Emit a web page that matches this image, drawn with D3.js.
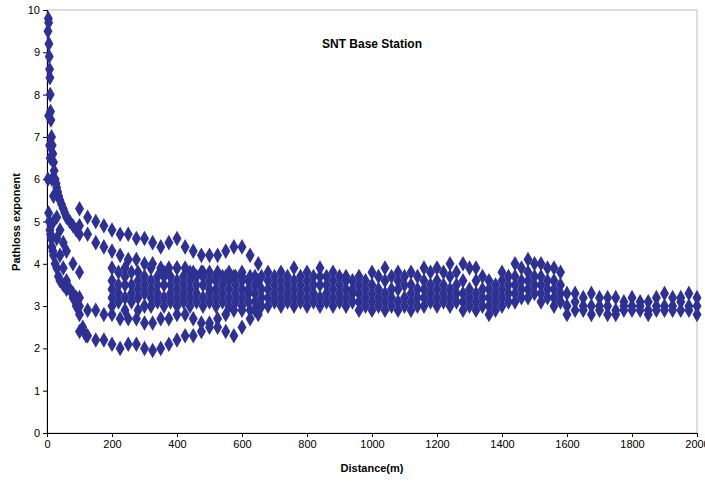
<!DOCTYPE html><html><head><meta charset="utf-8">
<script src="https://cdn.jsdelivr.net/npm/d3@7/dist/d3.min.js"></script>
<style>body{margin:0;background:#fff}svg{font-family:Arial,"Liberation Sans",sans-serif}</style></head><body>
<script>
const xTicks=[0,200,400,600,800,1000,1200,1400,1600,1800,2000];
const yTicks=[0,1,2,3,4,5,6,7,8,9,10];
const nearX1=[3,4,5,6,7,8,9,10,11,12,14,16,18,20,22,25,28,30,33,36,40,45,50,55,60,70,80,90,100];
const nearY1=[9.5,9.8,9.7,9.2,8.9,8.6,8.4,8.0,7.6,7.4,7.0,6.8,6.6,6.4,6.2,6.0,5.9,5.8,5.7,5.6,5.5,5.4,5.3,5.2,5.1,5.0,4.9,4.8,4.7];
const nearX2=[3,5,7,9,11,13,15,18,20,25,30,35,40,50,60,70,80,90,100];
const nearY2=[6.0,5.2,5.0,4.8,4.7,4.6,4.4,4.3,4.2,4.0,3.9,3.7,3.6,3.5,3.4,3.4,3.3,3.2,3.2];
const nearX3=[5,8,10,15,20,30,40,50,60,80,100];
const nearY3=[7.5,6.8,6.5,6.0,5.6,5.1,4.8,4.5,4.3,4.0,3.8];
const nearX4=[20,30,40,50,60,70,80,90,100,110,120];
const nearY4=[5.0,4.6,4.2,3.9,3.6,3.4,3.2,3.0,2.8,2.5,2.3];
const bandX=[100,125,150,175,200,225,250,275,300,325,350,375,400,425,450,475,500,525,550,575,600,625,650];
const upperY=[5.3,5.1,5.0,4.9,4.8,4.7,4.7,4.6,4.6,4.5,4.4,4.5,4.6,4.4,4.3,4.2,4.2,4.2,4.3,4.4,4.4,4.2,4.0];
const upper2Y=[4.9,4.7,4.5,4.4,4.3,4.2,4.1,4.1,4.0,4.0,3.9,3.9,3.9,3.9,3.8,3.8,3.8,3.8,3.7,3.7,3.7,3.7,3.6];
const lowY=[2.4,2.3,2.2,2.2,2.1,2.0,2.1,2.1,2.0,1.95,2.0,2.1,2.2,2.3,2.3,2.4,2.5,2.5,2.4,2.3,2.5,2.7,2.8];
const low2Y=[3.0,2.9,2.9,2.8,2.8,2.7,2.7,2.7,2.6,2.6,2.7,2.7,2.8,2.8,2.7,2.6,2.6,2.7,2.8,2.9,2.9,2.9,2.9];
const mainX=[200,240,280,320,360,400,440,480,520,560,600,640,680,720,760,800,840,880,920,960,1000,1040,1080,1120,1160,1200,1240,1280,1320,1360,1400,1440,1480,1520,1560];
const mainX2=[220,260,300,340,380,420,460,500,540,580,620,660,700,740,780,820,860,900,940,980,1020,1060,1100,1140,1180,1220,1260,1300,1340,1380,1420,1460,1500,1540,1580];
const row1=[3.9,3.9,3.8,3.9,3.8,3.9,3.8,3.8,3.7,3.8,3.8,3.7,3.8,3.8,3.9,3.8,3.9,3.8,3.7,3.7,3.8,3.9,3.8,3.8,3.9,3.9,4.0,4.0,3.9,3.6,3.8,4.0,4.1,4.0,3.9];
const row2=[3.6,3.7,3.6,3.6,3.7,3.6,3.6,3.7,3.6,3.6,3.6,3.5,3.6,3.6,3.6,3.6,3.7,3.6,3.6,3.5,3.5,3.6,3.6,3.5,3.6,3.6,3.7,3.6,3.6,3.4,3.6,3.7,3.8,3.7,3.6];
const row3=[3.4,3.5,3.4,3.4,3.5,3.4,3.4,3.5,3.4,3.4,3.4,3.3,3.4,3.4,3.4,3.4,3.5,3.4,3.4,3.3,3.3,3.3,3.4,3.3,3.4,3.4,3.4,3.3,3.3,3.2,3.4,3.5,3.6,3.5,3.4];
const row4=[3.2,3.2,3.2,3.2,3.2,3.2,3.2,3.2,3.2,3.2,3.2,3.1,3.2,3.2,3.2,3.2,3.2,3.2,3.2,3.1,3.1,3.1,3.1,3.1,3.2,3.2,3.2,3.1,3.1,3.0,3.2,3.3,3.4,3.3,3.2];
const row5=[3.0,2.9,2.9,3.0,3.0,3.0,3.0,3.0,3.0,3.0,3.0,2.9,3.0,3.0,3.0,3.0,3.0,3.0,3.0,2.9,2.9,2.9,2.9,2.9,3.0,3.0,3.0,2.9,2.9,2.8,3.0,3.1,3.2,3.1,3.0];
const row6=[3.8,3.8,3.7,3.7,3.7,3.7,3.7,3.6,3.7,3.7,3.6,3.7,3.7,3.7,3.7,3.7,3.7,3.7,3.6,3.6,3.7,3.7,3.7,3.7,3.8,3.8,3.8,3.9,3.7,3.5,3.7,3.9,4.0,3.9,3.8];
const row7=[3.5,3.5,3.5,3.5,3.5,3.5,3.5,3.4,3.5,3.5,3.4,3.4,3.5,3.5,3.5,3.5,3.5,3.5,3.4,3.4,3.4,3.4,3.5,3.4,3.5,3.5,3.5,3.4,3.4,3.3,3.5,3.6,3.7,3.6,3.5];
const row8=[3.3,3.3,3.3,3.3,3.3,3.3,3.3,3.3,3.3,3.3,3.3,3.2,3.3,3.3,3.3,3.3,3.3,3.3,3.3,3.2,3.2,3.2,3.2,3.2,3.3,3.3,3.3,3.2,3.2,3.1,3.3,3.4,3.5,3.4,3.3];
const row9=[3.1,3.1,3.0,3.1,3.1,3.1,3.1,3.1,3.1,3.1,3.1,3.0,3.1,3.1,3.1,3.1,3.1,3.1,3.1,3.0,3.0,3.0,3.0,3.0,3.1,3.1,3.1,3.0,3.0,2.9,3.1,3.2,3.3,3.2,3.1];
const tailX=[1600,1625,1650,1675,1700,1725,1750,1775,1800,1825,1850,1875,1900,1925,1950,1975,2000];
const tail1=[3.3,3.3,3.2,3.3,3.2,3.2,3.2,3.1,3.2,3.1,3.1,3.2,3.3,3.2,3.2,3.3,3.2];
const tail2=[3.0,3.1,3.0,3.0,3.0,3.0,2.9,3.0,3.0,3.0,2.9,3.0,3.0,3.0,3.1,3.0,3.0];
const tail3=[2.8,2.9,2.9,2.8,2.9,2.8,2.8,2.9,2.9,2.9,2.8,2.9,2.9,2.9,2.9,2.9,2.8];

const series=[[nearX1,nearY1],[nearX2,nearY2],[nearX3,nearY3],[nearX4,nearY4],
 [bandX,upperY],[bandX,upper2Y],[bandX,lowY],[bandX,low2Y],
 [mainX,row1],[mainX,row2],[mainX,row3],[mainX,row4],[mainX,row5],
 [mainX2,row6],[mainX2,row7],[mainX2,row8],[mainX2,row9],
 [tailX,tail1],[tailX,tail2],[tailX,tail3]];
const pts=[];series.forEach(([xs,ys])=>xs.forEach((x,i)=>pts.push([x,ys[i]])));

const W=705,H=487,m={l:47,r:8,t:10,b:54};
const svg=d3.select("body").append("svg").attr("width",W).attr("height",H);
const x=d3.scaleLinear().domain([0,2000]).range([m.l,W-m.r]);
const y=d3.scaleLinear().domain([0,10]).range([H-m.b,m.t]);
svg.append("rect").attr("x",m.l).attr("y",m.t).attr("width",W-m.r-m.l).attr("height",H-m.b-m.t).attr("fill","none").attr("stroke","#bbb");
const gx=svg.append("g").attr("transform",`translate(0,${H-m.b})`).call(d3.axisBottom(x).tickValues(xTicks).tickSize(4).tickFormat(d3.format("d")));
const gy=svg.append("g").attr("transform",`translate(${m.l},0)`).call(d3.axisLeft(y).tickValues(yTicks).tickSize(4));
[gx,gy].forEach(g=>{g.selectAll("text").attr("font-size",11).attr("fill","#000");g.select(".domain").attr("stroke","#000");});
svg.append("g").selectAll("path").data(pts).join("path")
 .attr("transform",d=>`translate(${x(d[0])},${y(d[1])})`)
 .attr("d",d3.symbol(d3.symbolDiamond,70)).attr("fill","#2e3192");
svg.append("text").attr("x",372).attr("y",48).attr("text-anchor","middle").attr("font-size",12).attr("font-weight","bold").text("SNT  Base Station");
svg.append("text").attr("x",372).attr("y",472).attr("text-anchor","middle").attr("font-size",11).attr("font-weight","bold").text("Distance(m)");
svg.append("text").attr("transform","translate(20,222) rotate(-90)").attr("text-anchor","middle").attr("font-size",11).attr("font-weight","bold").text("Pathloss  exponent");
</script></body></html>
